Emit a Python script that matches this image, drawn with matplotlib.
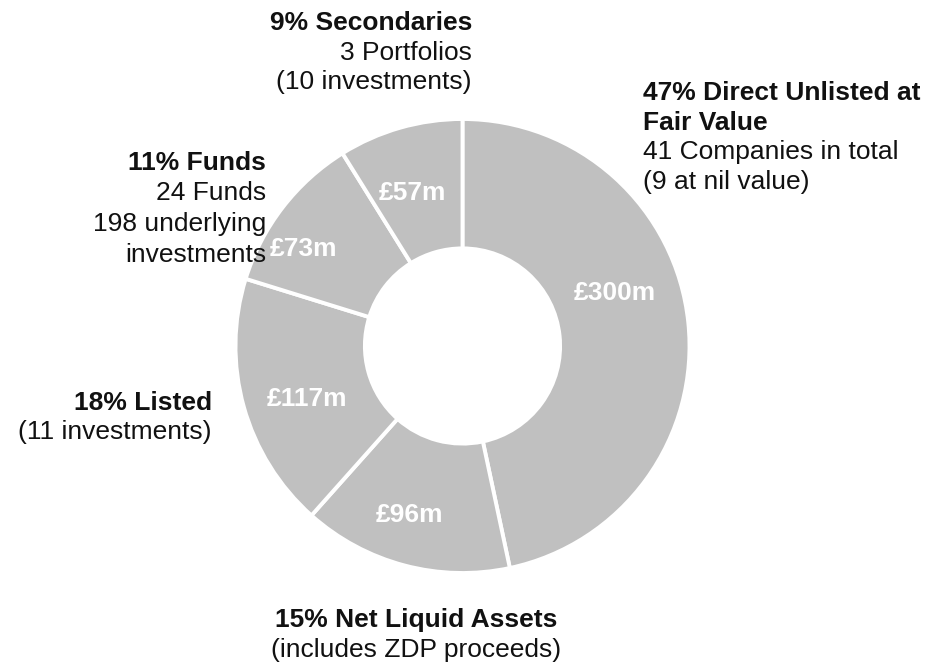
import numpy as np
import matplotlib.pyplot as plt

plt.rcParams['font.family'] = ['Liberation Sans', 'DejaVu Sans']

# data
values = [300, 96, 117, 73, 57]
value_labels = ['£300m', '£96m', '£117m', '£73m', '£57m']
titles = ['47% Direct Unlisted at\nFair Value', '15% Net Liquid Assets', '18% Listed',
          '11% Funds', '9% Secondaries']
notes = [['41 Companies in total', '(9 at nil value)'],
         ['(includes ZDP proceeds)'],
         ['(11 investments)'],
         ['24 Funds', '198 underlying', 'investments'],
         ['3 Portfolios', '(10 investments)']]

W, H = 945, 665
grey = '#c0c0c0'

fig = plt.figure(figsize=(W / 100, H / 100), dpi=100)

# donut centre (462, 346) px, radius 227 px
cx, cy, r = 462.5, 346, 227
ax = fig.add_axes([(cx - r) / W, (H - cy - r) / H, 2 * r / W, 2 * r / H])
ax.pie(values, startangle=90, counterclock=False, radius=1,
       colors=[grey] * len(values),
       wedgeprops=dict(width=0.57, edgecolor='white', linewidth=2.8))
ax.set_xlim(-1, 1)
ax.set_ylim(-1, 1)
ax.set_aspect('equal')
ax.axis('off')

def px(x, y):
    return x / W, 1 - y / H

# value labels inside the ring (pixel positions)
inner_pos = [(615, 291), (410, 512), (307, 397), (303, 247), (412, 191)]
for lab, (x, y) in zip(value_labels, inner_pos):
    fig.text(*px(x, y), lab, color='white', fontsize=19, fontweight='bold',
             ha='center', va='center_baseline')

# outside labels: anchor x, alignment, y of each line
outer_layout = [
    (643, 'left', [90, 120, 149, 179]),
    (416, 'center', [618, 648]),
    (212, 'right', [400, 430]),
    (266, 'right', [160, 190, 222, 252]),
    (472, 'right', [20, 50, 80]),
]
for title, note, (x, ha, ys) in zip(titles, notes, outer_layout):
    tl = title.split('\n')
    lines = [(t, 'bold') for t in tl] + [(n, 'normal') for n in note]
    for (txt, w), y in zip(lines, ys):
        fig.text(*px(x, y), txt, fontsize=19, fontweight=w, ha=ha,
                 va='center_baseline', color='#111111')

fig.savefig('out.png', dpi=100)
